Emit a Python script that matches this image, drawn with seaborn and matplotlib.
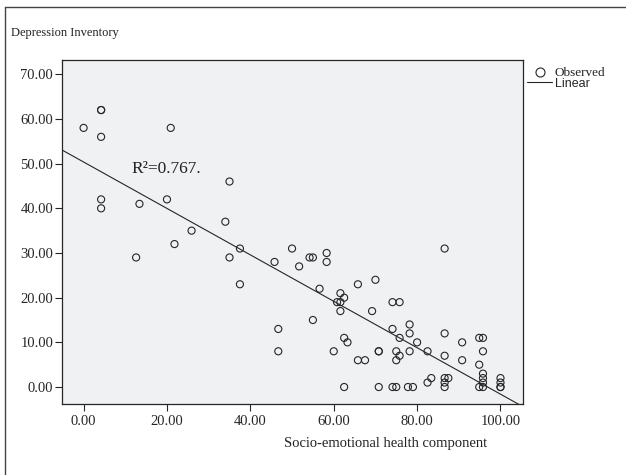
import numpy as np
import pandas as pd
import matplotlib
matplotlib.use("Agg")
import matplotlib.pyplot as plt
from matplotlib.lines import Line2D
import seaborn as sns

# ---- data ----
socio = [0.0, 4.2, 4.2, 4.2, 4.2, 4.2, 12.6, 13.4, 20.0, 20.9, 21.8, 25.9, 34.0,
         35.0, 35.0, 37.5, 37.5, 45.8, 46.7, 46.7, 50.0, 51.7, 54.2, 55.0, 55.0,
         56.6, 58.3, 58.3, 60.0, 60.8, 61.6, 61.6, 62.5, 61.6, 62.5, 63.3, 62.5,
         65.8, 65.8, 67.5, 69.2, 70.0, 70.8, 70.8, 70.8, 74.1, 75.8, 74.1, 75.8,
         75.0, 75.8, 75.0, 74.1, 75.0, 78.2, 78.2, 78.2, 80.0, 77.8, 79.0, 82.5,
         82.5, 83.4, 86.6, 86.6, 86.6, 86.6, 87.5, 86.6, 86.6, 90.8, 90.8, 94.9,
         95.8, 95.8, 94.9, 95.8, 95.8, 95.8, 94.9, 95.8, 100, 100, 100, 100]
depression = [58, 62, 62, 56, 42, 40, 29, 41, 42, 58, 32, 35, 37, 46, 29, 31, 23,
              28, 13, 8, 31, 27, 29, 29, 15, 22, 30, 28, 8, 19, 19, 21, 20, 17,
              11, 10, 0, 23, 6, 6, 17, 24, 8, 8, 0, 19, 19, 13, 11, 8, 7, 6, 0, 0,
              14, 12, 8, 10, 0, 0, 8, 1, 2, 31, 12, 7, 2, 2, 1, 0, 10, 6, 11, 11,
              8, 5, 3, 2, 1, 0, 0, 2, 1, 0, 0]
x_ticks = [0, 20, 40, 60, 80, 100]
y_ticks = [0, 10, 20, 30, 40, 50, 60, 70]
r2_label = "R\u00b2=0.767."
x_label = "Socio-emotional health component"
y_label = "Depression Inventory"
legend_labels = ["Observed", "Linear"]

df = pd.DataFrame({"socio": socio, "depression": depression})

sns.set_style("white")
plt.rcParams["font.family"] = ["Liberation Serif", "DejaVu Serif"]

W, H = 626, 475
fig = plt.figure(figsize=(W / 100, H / 100), dpi=100)
fig.patch.set_facecolor("white")
ax = fig.add_axes([61.5 / W, 1 - 404 / H, (523 - 61.5) / W, (404 - 60) / H])
ax.set_facecolor("#F0F1F3")

ink = "#262626"
ax.set_xlim(-5.3, 105.4)
ax.set_ylim(-3.8, 73.2)

sns.scatterplot(data=df, x="socio", y="depression", ax=ax, marker="o", s=26,
                facecolors="none", edgecolors=ink, linewidths=0.8, legend=False)
sns.regplot(data=df, x="socio", y="depression", ax=ax, scatter=False, ci=None,
            truncate=False, line_kws={"color": ink, "lw": 0.8})
ax.set_xlim(-5.3, 105.4)
ax.set_ylim(-3.8, 73.2)

ax.set_xticks(x_ticks)
ax.set_yticks(y_ticks)
ax.set_xticklabels([f"{v:.2f}" for v in x_ticks])
ax.set_yticklabels([f"{v:.2f}" for v in y_ticks])
ax.tick_params(axis="y", direction="out", length=5, width=0.8, color=ink,
               labelsize=10.5, pad=1, left=True)
ax.tick_params(axis="x", direction="out", length=4.7, width=0.8, color=ink,
               labelsize=10.5, pad=3, bottom=True)
for sp in ax.spines.values():
    sp.set_color(ink)
    sp.set_linewidth(0.9)

ax.set_xlabel(x_label, fontsize=10.5, color="#222222")
ax.xaxis.set_label_coords((386 - 61.5) / (523 - 61.5), -(443 - 404) / 344)
ax.xaxis.label.set_va("center")
ax.set_ylabel(y_label, fontsize=9, rotation=0, ha="left", va="center",
              color="#222222")
ax.yaxis.set_label_coords((11 - 61.5) / (523 - 61.5), (404 - 33) / 344)

ax.text((131 - 61.5) / (523 - 61.5), (404 - 173) / 344, r2_label,
        transform=ax.transAxes, fontsize=12.5, va="baseline", ha="left",
        color="#222222")

handles = [Line2D([], [], marker="o", ls="none", mfc="none", mec=ink,
                  mew=0.8, ms=6.5),
           Line2D([], [], color=ink, lw=0.8)]
leg = ax.legend(handles, legend_labels, loc="upper left",
                bbox_to_anchor=(527 / W, 1 - 67 / H),
                bbox_transform=fig.transFigure, frameon=False, fontsize=9,
                handlelength=2.0, handletextpad=0.2, labelspacing=-0.1,
                borderpad=0, borderaxespad=0)
leg.get_texts()[0].set_fontsize(9.5)
leg.get_texts()[1].set_fontfamily(["Liberation Sans", "DejaVu Sans"])

# outer frame (top and left edges visible)
fig.add_artist(Line2D([5 / W, 1], [1 - 7 / H, 1 - 7 / H], transform=fig.transFigure,
                      color="#444444", lw=1))
fig.add_artist(Line2D([5 / W, 5 / W], [0, 1 - 7 / H], transform=fig.transFigure,
                      color="#444444", lw=1))

fig.savefig("out.png", dpi=100)
